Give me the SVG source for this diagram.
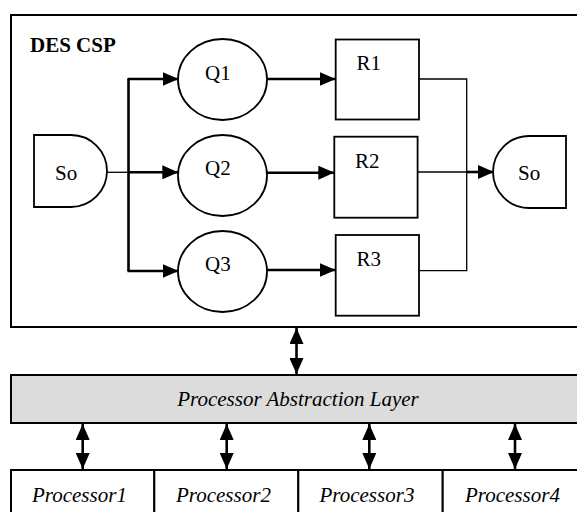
<svg xmlns="http://www.w3.org/2000/svg" width="577" height="512" viewBox="0 0 577 512" font-family="'Liberation Serif', 'DejaVu Serif', serif">
  <defs>
    <marker id="head" viewBox="0 0 16 14" refX="16" refY="7" markerWidth="16" markerHeight="14" markerUnits="userSpaceOnUse" orient="auto-start-reverse">
      <path d="M0,0 L16,7 L0,14 Z" fill="#000"/>
    </marker>
    <style>
      .box { fill: #fff; stroke: #000; stroke-width: 2; }
      .node { fill: #fff; stroke: #000; stroke-width: 1.8; }
      .thin { fill: none; stroke: #000; stroke-width: 1.3; }
      .thick { fill: none; stroke: #000; stroke-width: 2.6; }
      .arrow { fill: none; stroke: #000; stroke-width: 2.6; marker-end: url(#head); }
      .both { fill: none; stroke: #000; stroke-width: 2.6; marker-start: url(#head); marker-end: url(#head); }
      .lbl { font-family: 'Liberation Serif', 'DejaVu Serif', serif; font-size: 21px; fill: #000; }
      .it { font-style: italic; }
      .title { font-weight: bold; }
    </style>
  </defs>

  <!-- simulation container -->
  <g id="des-csp">
    <rect class="box" x="11" y="15" width="600" height="312"/>
    <text class="lbl title" x="30" y="52">DES CSP</text>
  </g>

  <!-- source / sink -->
  <g id="source">
    <path class="node" d="M34,135 H71 A36,36 0 0 1 71,207 H34 Z"/>
    <text class="lbl" x="55" y="180">So</text>
  </g>
  <g id="sink">
    <path class="node" d="M566,136 H529 A36,36 0 0 0 529,208 H566 Z"/>
    <text class="lbl" x="518" y="180">So</text>
  </g>

  <!-- queues -->
  <g id="q1">
    <ellipse class="node" cx="222.5" cy="79.5" rx="44.5" ry="40.5"/>
    <text class="lbl" x="205" y="80">Q1</text>
  </g>
  <g id="q2">
    <ellipse class="node" cx="222.5" cy="175.5" rx="44.5" ry="40.5"/>
    <text class="lbl" x="205" y="175">Q2</text>
  </g>
  <g id="q3">
    <ellipse class="node" cx="222.5" cy="271.5" rx="44.5" ry="40.5"/>
    <text class="lbl" x="205" y="271">Q3</text>
  </g>

  <!-- resources -->
  <g id="r1">
    <rect class="node" x="335.7" y="39.5" width="83.3" height="80"/>
    <text class="lbl" x="356.5" y="70">R1</text>
  </g>
  <g id="r2">
    <rect class="node" x="334.3" y="136.7" width="83.3" height="81"/>
    <text class="lbl" x="355" y="168">R2</text>
  </g>
  <g id="r3">
    <rect class="node" x="335.7" y="235" width="83.3" height="80.7"/>
    <text class="lbl" x="356.5" y="266">R3</text>
  </g>

  <!-- abstraction layer -->
  <g id="pal">
    <rect class="box" x="11" y="375" width="600" height="48" style="fill:#dcdcdc"/>
    <text class="lbl it" x="298" y="406" text-anchor="middle">Processor Abstraction Layer</text>
  </g>

  <!-- processors -->
  <g id="processor1">
    <rect class="box" x="11" y="470" width="143.3" height="60"/>
    <text class="lbl it" x="32" y="502">Processor1</text>
  </g>
  <g id="processor2">
    <rect class="box" x="154.3" y="470" width="144" height="60"/>
    <text class="lbl it" x="176" y="502">Processor2</text>
  </g>
  <g id="processor3">
    <rect class="box" x="298.3" y="470" width="144.4" height="60"/>
    <text class="lbl it" x="319.5" y="502">Processor3</text>
  </g>
  <g id="processor4">
    <rect class="box" x="442.7" y="470" width="170" height="60"/>
    <text class="lbl it" x="465" y="502">Processor4</text>
  </g>

  <!-- connectors -->
  <g id="connectors">
    <!-- fan-out from source -->
    <path class="thin" d="M107,172.3 H128.5"/>
    <path class="thick" d="M128.5,79 V271"/>
    <path class="arrow" d="M127.5,79 H178.5"/>
    <path class="arrow" d="M128.5,172.3 H178.3"/>
    <path class="arrow" d="M127.5,271 H178.5"/>
    <!-- queue to resource -->
    <path class="arrow" d="M267,79 H335.7"/>
    <path class="arrow" d="M267,172.7 H334.3"/>
    <path class="arrow" d="M267,270 H335.7"/>
    <!-- resources to sink -->
    <path class="thin" d="M419,79 H466.7 V270.7 H419"/>
    <path class="thin" d="M417.6,172 H466.7"/>
    <path class="arrow" d="M466.7,172 H494"/>
    <!-- layer links -->
    <path class="both" d="M296.5,328 V374"/>
    <path class="both" d="M82.7,424 V469"/>
    <path class="both" d="M226.7,424 V469"/>
    <path class="both" d="M369.3,424 V469"/>
    <path class="both" d="M515,424 V469"/>
  </g>
</svg>
